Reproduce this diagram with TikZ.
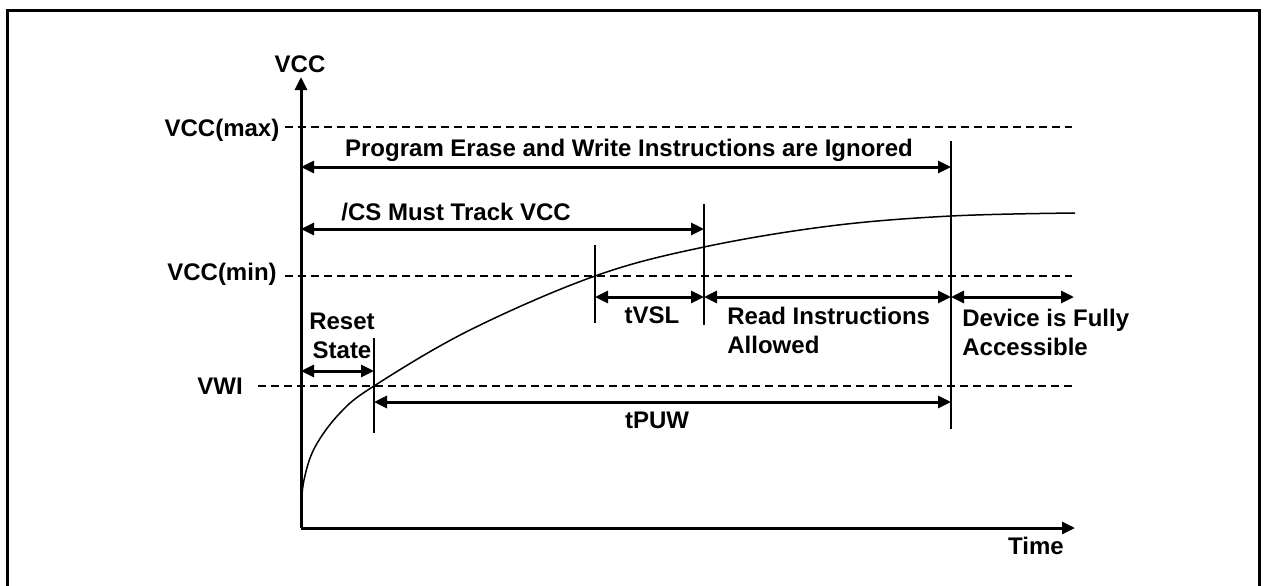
\documentclass[tikz,border=0pt]{standalone}
\usepackage{fontspec}
\setmainfont{Liberation Sans}
\usetikzlibrary{arrows.meta,positioning,calc}
\tikzset{
  >={Triangle[length=6.5pt,width=6pt]},
  axis/.style={->,line width=1.5pt},
  lvl/.style={line width=0.75pt,dash pattern=on 4pt off 2.5pt},
  vline/.style={line width=0.75pt},
  spanarr/.style={<->,line width=1.5pt},
  lab/.style={font=\fontsize{12}{14.5}\selectfont\bfseries,inner sep=0pt,align=left},
}
\begin{document}
\begin{tikzpicture}[x=0.5pt,y=-0.5pt]
\useasboundingbox (0,0) rectangle (1264,585);
\draw[line width=1.5pt] (7,600) -- (7,10) -- (1259,10) -- (1259,600);
% axes
\coordinate (o) at (301,528);
\coordinate (ytop) at (301,77);
\coordinate (xend) at (1075,528);
\draw[axis] (o) -- (ytop);
\draw[axis] (o) -- (xend);
\node[lab,anchor=south] (vcc) at (300,73) {VCC};
\node[lab] (time) at (1036,546) {Time};
% levels
\node[lab] (vmax) at (222,130) {VCC(max)};
\node[lab] (vmin) at (222,274) {VCC(min)};
\node[lab] (vwi) at (220,386) {VWI};
\draw[lvl] (285,127) -- (1072,127);
\draw[lvl] (285,276) -- (1072,276);
\draw[lvl] (258,386) -- (1072,386);
% time markers
\coordinate (t1) at (374,386);
\coordinate (t2) at (595,276);
\coordinate (t3) at (704,247);
\coordinate (t4) at (951,216);
\foreach \x/\a/\b in {374/338/433, 595/245/323, 704/204/325, 951/141/429}
  \draw[vline] (\x,\a) -- (\x,\b);
% supply ramp
\draw[line width=0.75pt] plot[smooth,tension=0.6] coordinates {(301,510) (304,480) (315,447) (340,413) (t1) (470,330) (t2) (t3) (830,226) (t4) (1075,213)};
% spans
\draw[spanarr] (301,167) -- (t4 |- 0,167);
\node[lab] (ign) at (629,150) {Program Erase and Write Instructions are Ignored};
\draw[spanarr] (301,229) -- (t3 |- 0,229);
\node[lab,anchor=west] (cs) at (341,212) {/CS Must Track VCC};
\draw[spanarr] (301,371) -- (t1 |- 0,371);
\node[lab,align=center] (rst) at (342,336) {Reset\\State};
\draw[spanarr] (t1 |- 0,402) -- (t4 |- 0,402);
\node[lab] (tpuw) at (657,420) {tPUW};
\draw[spanarr] (t2 |- 0,297) -- (t3 |- 0,297);
\node[lab] (tvsl) at (652,315) {tVSL};
\draw[spanarr] (t3 |- 0,297) -- (t4 |- 0,297);
\node[lab,anchor=west] (rd) at (727,330) {Read Instructions\\Allowed};
\draw[spanarr] (t4 |- 0,297) -- (1074,297);
\node[lab,anchor=west] (dev) at (962,332) {Device is Fully\\Accessible};
\end{tikzpicture}
\end{document}
